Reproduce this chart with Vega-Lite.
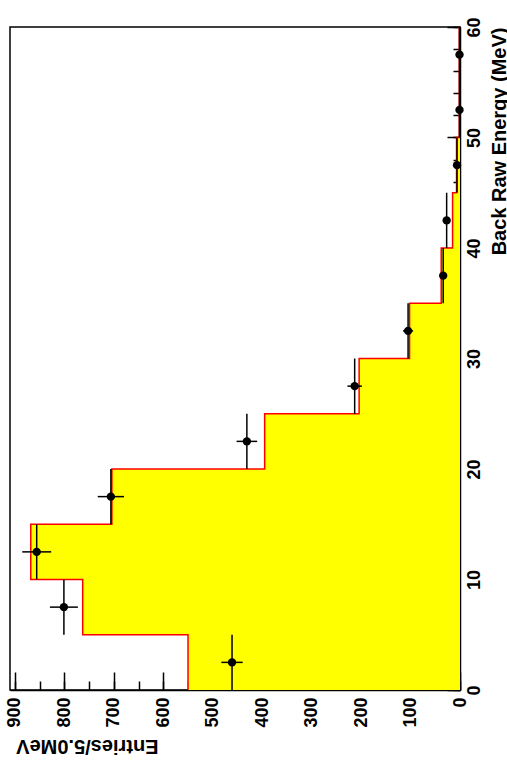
{
  "$schema": "https://vega.github.io/schema/vega-lite/v6.json",
  "width": 450,
  "height": 663,
  "autosize": "none",
  "padding": {"left": 10, "top": 27, "right": 47, "bottom": 79},
  "background": "white",
  "config": {
    "view": {"stroke": "black", "strokeWidth": 1.5},
    "font": "Liberation Sans",
    "axis": {"grid": false, "zindex": 1, "domainColor": "black", "domainWidth": 1.5, "tickColor": "black", "tickWidth": 1.5, "labelColor": "black", "titleColor": "black", "labelFont": "Liberation Sans", "titleFont": "Liberation Sans"}
  },
  "datasets": {
    "hist": [
      {"e": 0, "n": 550}, {"e": 5, "n": 763}, {"e": 10, "n": 868}, {"e": 15, "n": 704},
      {"e": 20, "n": 395}, {"e": 25, "n": 204}, {"e": 30, "n": 102}, {"e": 35, "n": 38},
      {"e": 40, "n": 15}, {"e": 45, "n": 7}, {"e": 50, "n": 1.5}, {"e": 55, "n": 1.5}, {"e": 60, "n": 1.5}
    ],
    "pts": [
      {"ec": 2.5, "elo": 0, "ehi": 5, "d": 461, "dlo": 439.5, "dhi": 482.5},
      {"ec": 7.5, "elo": 5, "ehi": 10, "d": 801, "dlo": 772.7, "dhi": 829.3},
      {"ec": 12.5, "elo": 10, "ehi": 15, "d": 856, "dlo": 826.7, "dhi": 885.3},
      {"ec": 17.5, "elo": 15, "ehi": 20, "d": 706, "dlo": 679.4, "dhi": 732.6},
      {"ec": 22.5, "elo": 20, "ehi": 25, "d": 431, "dlo": 410.2, "dhi": 451.8},
      {"ec": 27.5, "elo": 25, "ehi": 30, "d": 213, "dlo": 198.4, "dhi": 227.6},
      {"ec": 32.5, "elo": 30, "ehi": 35, "d": 105, "dlo": 94.8, "dhi": 115.2},
      {"ec": 37.5, "elo": 35, "ehi": 40, "d": 34, "dlo": 28.2, "dhi": 39.8},
      {"ec": 42.5, "elo": 40, "ehi": 45, "d": 27, "dlo": 21.8, "dhi": 32.2},
      {"ec": 47.5, "elo": 45, "ehi": 50, "d": 6, "dlo": 3.6, "dhi": 8.4},
      {"ec": 52.5, "elo": 50, "ehi": 55, "d": 1, "dlo": 0, "dhi": 2},
      {"ec": 57.5, "elo": 55, "ehi": 60, "d": 1, "dlo": 0, "dhi": 2}
    ]
  },
  "resolve": {"axis": {"x": "independent", "y": "independent"}},
  "layer": [
    {
      "data": {"name": "hist"},
      "mark": {"type": "area", "orient": "horizontal", "interpolate": "step-after", "color": "#ffff00", "opacity": 1},
      "encoding": {
        "y": {"field": "e", "type": "quantitative", "scale": {"domain": [0, 60], "nice": false},
          "axis": {"orient": "right", "values": [0, 10, 20, 30, 40, 50, 60], "tickSize": -13, "labelAngle": 270, "labelAlign": "center", "labelBaseline": "top", "labelPadding": 18, "labelFontSize": 18, "labelFontWeight": "bold", "labelFlush": false, "labelOverlap": false,
            "title": "Back Raw Energy (MeV)", "titleAngle": 270, "titleX": 45, "titleY": 0, "titleAlign": "right", "titleBaseline": "alphabetic", "titleFontSize": 20, "titleFontWeight": "bold"}},
        "x": {"field": "n", "type": "quantitative", "scale": {"domain": [0, 910], "nice": false, "reverse": true},
          "axis": {"orient": "bottom", "values": [0, 100, 200, 300, 400, 500, 600, 700, 800, 900], "tickSize": -18, "labelAngle": 270, "labelAlign": "right", "labelBaseline": "middle", "labelPadding": 25, "labelFontSize": 18, "labelFontWeight": "bold", "labelFlush": false, "labelOverlap": false,
            "title": "Entries/5.0MeV", "titleAngle": 180, "titleX": 148, "titleY": 55, "titleAlign": "left", "titleBaseline": "middle", "titleFontSize": 20, "titleFontWeight": "bold"}}
      }
    },
    {
      "data": {"name": "hist"},
      "mark": {"type": "line", "interpolate": "step-before", "color": "#ff0000", "strokeWidth": 1.5},
      "encoding": {
        "y": {"field": "e", "type": "quantitative",
          "axis": {"orient": "right", "values": [0,2,4,6,8,10,12,14,16,18,20,22,24,26,28,30,32,34,36,38,40,42,44,46,48,50,52,54,56,58,60], "tickSize": -7, "labels": false, "domain": false, "title": null}},
        "x": {"field": "n", "type": "quantitative",
          "axis": {"orient": "bottom", "values": [0,50,100,150,200,250,300,350,400,450,500,550,600,650,700,750,800,850,900], "tickSize": -9, "labels": false, "domain": false, "title": null}},
        "order": {"field": "e"}
      }
    },
    {
      "data": {"name": "pts"},
      "mark": {"type": "rule", "color": "black", "strokeWidth": 1.5},
      "encoding": {
        "y": {"field": "ec", "type": "quantitative", "axis": null},
        "x": {"field": "dlo", "type": "quantitative", "axis": null},
        "x2": {"field": "dhi"}
      }
    },
    {
      "data": {"name": "pts"},
      "mark": {"type": "rule", "color": "black", "strokeWidth": 1.5},
      "encoding": {
        "y": {"field": "elo", "type": "quantitative", "axis": null},
        "y2": {"field": "ehi"},
        "x": {"field": "d", "type": "quantitative", "axis": null}
      }
    },
    {
      "data": {"name": "pts"},
      "mark": {"type": "point", "shape": "circle", "filled": true, "color": "black", "size": 70, "opacity": 1},
      "encoding": {
        "y": {"field": "ec", "type": "quantitative", "axis": null},
        "x": {"field": "d", "type": "quantitative", "axis": null}
      }
    }
  ]
}
